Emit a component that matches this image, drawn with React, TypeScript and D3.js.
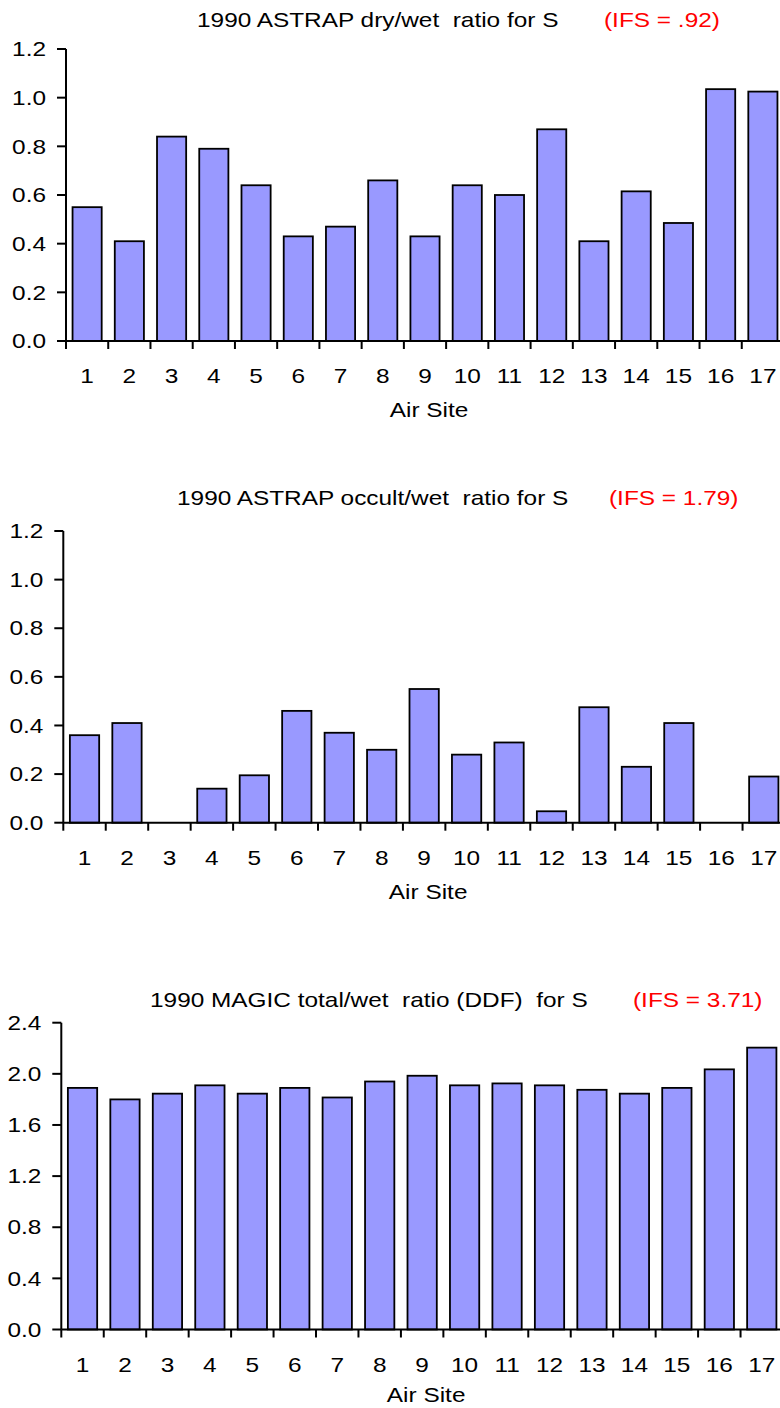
import React from "react";
import * as d3 from "d3";

const sites = ["1","2","3","4","5","6","7","8","9","10","11","12","13","14","15","16","17"];
const dryWet = [0.55,0.41,0.84,0.79,0.64,0.43,0.47,0.66,0.43,0.64,0.60,0.87,0.41,0.615,0.485,1.035,1.025];
const occultWet = [0.36,0.41,0,0.14,0.195,0.46,0.37,0.30,0.55,0.28,0.33,0.047,0.475,0.23,0.41,0,0.19];
const totalWet = [1.89,1.80,1.845,1.91,1.845,1.89,1.815,1.94,1.985,1.91,1.925,1.91,1.875,1.845,1.89,2.035,2.205];
const ticks1 = [0,0.2,0.4,0.6,0.8,1.0,1.2];
const ticks3 = [0,0.4,0.8,1.2,1.6,2.0,2.4];
const titles = [
  "1990 ASTRAP dry/wet  ratio for S",
  "1990 ASTRAP occult/wet  ratio for S",
  "1990 MAGIC total/wet  ratio (DDF)  for S",
];
const ifsLabels = ["(IFS = .92)", "(IFS = 1.79)", "(IFS = 3.71)"];
const xTitle = "Air Site";

const FONT = "'Liberation Sans', Arial, Helvetica, sans-serif";
const FS = 20;
const SX = 1.22;

type PanelProps = {
  values: number[];
  ticks: number[];
  max: number;
  x0: number; x1: number; yTop: number; yBottom: number;
  title: string; ifs: string; titleX: number; titleY: number; redX: number; xTitleDy: number;
};

function STxt({ x, y, anchor, fill, children, dy }: any) {
  return (
    <g transform={`translate(${x},${y}) scale(${SX},1)`}>
      <text x={0} y={0} dy={dy || 0} textAnchor={anchor || "start"} fill={fill || "#000"}
        fontFamily={FONT} fontSize={FS} style={{ whiteSpace: "pre" }}>{children}</text>
    </g>
  );
}

function Panel(p: PanelProps) {
  const x = d3.scaleBand<string>().domain(sites).range([p.x0, p.x1]).paddingInner(0.31).paddingOuter(0.155);
  const y = d3.scaleLinear().domain([0, p.max]).range([p.yBottom, p.yTop]);
  const step = (p.x1 - p.x0) / sites.length;
  const fmt = d3.format(".1f");
  return (
    <g>
      <STxt x={p.titleX} y={p.titleY}>{p.title}</STxt>
      <STxt x={p.redX} y={p.titleY} fill="#ff0000">{p.ifs}</STxt>
      {p.values.map((v, i) => (
        v > 0 ? (
          <rect key={i} x={x(sites[i])} y={y(v)} width={x.bandwidth()} height={y(0) - y(v)}
            fill="#9999ff" stroke="#000" strokeWidth={1.8} />
        ) : null
      ))}
      <line x1={p.x0} x2={p.x0} y1={y(p.max)} y2={y(0)} stroke="#000" strokeWidth={2} />
      <line x1={p.x0} x2={p.x1} y1={y(0)} y2={y(0)} stroke="#000" strokeWidth={2} />
      {p.ticks.map((t) => (
        <g key={t}>
          <line x1={p.x0 - 9} x2={p.x0} y1={y(t)} y2={y(t)} stroke="#000" strokeWidth={2} />
          <STxt x={p.x0 - 20} y={y(t)} anchor="end" dy="0.36em">{fmt(t)}</STxt>
        </g>
      ))}
      {d3.range(sites.length + 1).map((i) => (
        <line key={i} x1={p.x0 + i * step} x2={p.x0 + i * step} y1={y(0)} y2={y(0) + 8} stroke="#000" strokeWidth={2} />
      ))}
      {sites.map((s) => (
        <STxt key={s} x={(x(s) as number) + x.bandwidth() / 2} y={y(0) + 42} anchor="middle">{s}</STxt>
      ))}
      <STxt x={(p.x0 + p.x1) / 2 + 4} y={y(0) + p.xTitleDy} anchor="middle">{xTitle}</STxt>
    </g>
  );
}

export default function App() {
  return (
    <svg width={780} height={1408} style={{ position: "absolute", left: 0, top: 0, background: "#fff" }}>
      <rect x={0} y={0} width={780} height={1408} fill="#fff" />
      <Panel values={dryWet} ticks={ticks1} max={1.2} x0={66} x1={784} yTop={49} yBottom={341}
        title={titles[0]} ifs={ifsLabels[0]} titleX={197} titleY={27} redX={604} xTitleDy={76} />
      <Panel values={occultWet} ticks={ticks1} max={1.2} x0={63.3} x1={785} yTop={531} yBottom={822.7}
        title={titles[1]} ifs={ifsLabels[1]} titleX={177} titleY={505} redX={609} xTitleDy={76} />
      <Panel values={totalWet} ticks={ticks3} max={2.4} x0={61.3} x1={783} yTop={1022.7} yBottom={1329.5}
        title={titles[2]} ifs={ifsLabels[2]} titleX={150} titleY={1007} redX={633} xTitleDy={72} />
    </svg>
  );
}
